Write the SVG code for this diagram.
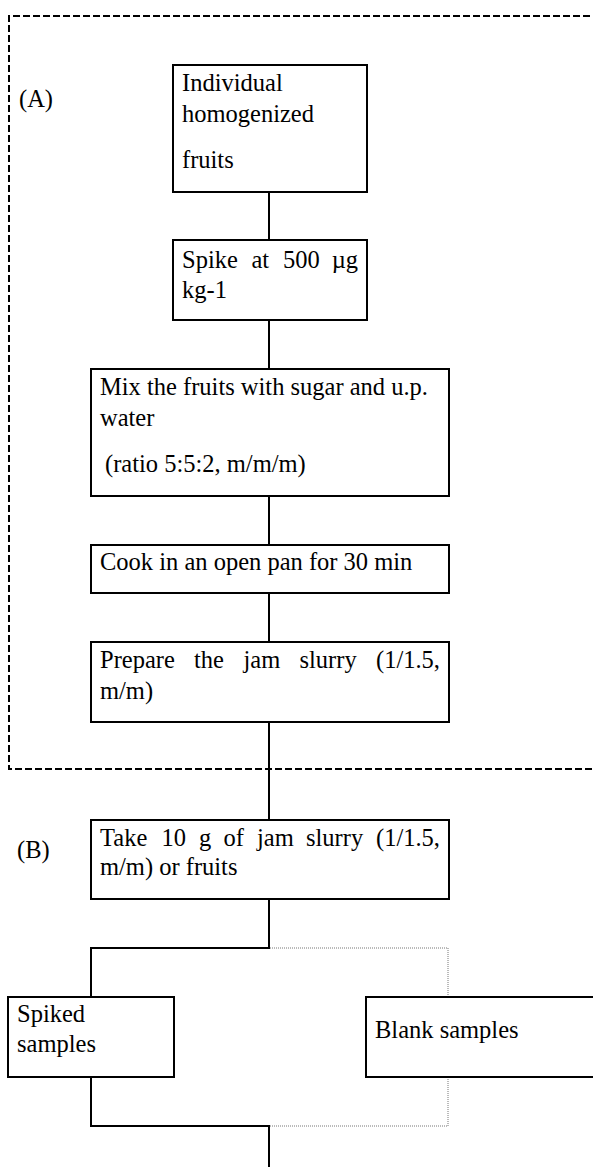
<svg xmlns="http://www.w3.org/2000/svg" width="593" height="1167" viewBox="0 0 593 1167">
<style>
.box{fill:#fff;stroke:#000;stroke-width:2}
.ln{stroke:#000;stroke-width:2;fill:none}
.dot{stroke:#777;stroke-width:1;stroke-dasharray:1 1;fill:none}
.dash{stroke:#000;stroke-width:2;stroke-dasharray:7 3;fill:none}
text{font-family:"Liberation Serif","Times New Roman",serif;font-size:24.5px;fill:#000}
.e{text-anchor:end}
</style>
<rect width="593" height="1167" fill="#fff"/>
<g id="groupA">
<path class="dash" d="M600,16 H9 V769 H600"/>
<text x="19" y="107">(A)</text>
</g>
<g id="connectors">
<line class="ln" x1="269" y1="192" x2="269" y2="240"/>
<line class="ln" x1="269" y1="320" x2="269" y2="369"/>
<line class="ln" x1="269" y1="496" x2="269" y2="545"/>
<line class="ln" x1="269" y1="593" x2="269" y2="642"/>
<line class="ln" x1="269" y1="722" x2="269" y2="820"/>
<polyline class="ln" points="269,899 269,948 91,948 91,997"/>
<polyline class="ln" points="91,1077 91,1126 269,1126"/>
<line class="ln" x1="269" y1="1125" x2="269" y2="1167"/>
<polyline class="dot" points="270,948 448,948 448,997"/>
<polyline class="dot" points="448,1077 448,1126 270,1126"/>
</g>
<g id="n1">
<rect class="box" x="173" y="65" width="194" height="127"/>
<text x="182" y="91">Individual</text>
<text x="182" y="122">homogenized</text>
<text x="182" y="168">fruits</text>
</g>
<g id="n2">
<rect class="box" x="173" y="240" width="194" height="80"/>
<text y="268"><tspan x="182">Spike</tspan><tspan x="251.5">at</tspan><tspan x="283">500</tspan><tspan x="358" class="e">µg</tspan></text>
<text x="182" y="298">kg-1</text>
</g>
<g id="n3">
<rect class="box" x="91" y="369" width="358" height="127"/>
<text x="100" y="395">Mix the fruits with sugar and u.p.</text>
<text x="100" y="426">water</text>
<text x="105" y="472">(ratio 5:5:2, m/m/m)</text>
</g>
<g id="n4">
<rect class="box" x="91" y="545" width="358" height="48"/>
<text x="100" y="570">Cook in an open pan for 30 min</text>
</g>
<g id="n5">
<rect class="box" x="91" y="642" width="358" height="80"/>
<text y="668"><tspan x="100">Prepare</tspan><tspan x="194">the</tspan><tspan x="243.5">jam</tspan><tspan x="299.5">slurry</tspan><tspan x="440" class="e">(1/1.5,</tspan></text>
<text x="100" y="699">m/m)</text>
</g>
<g id="n6">
<rect class="box" x="91" y="820" width="358" height="79"/>
<text x="17" y="858">(B)</text>
<text y="846"><tspan x="100">Take</tspan><tspan x="161.5">10</tspan><tspan x="199">g</tspan><tspan x="223.5">of</tspan><tspan x="257">jam</tspan><tspan x="306">slurry</tspan><tspan x="440" class="e">(1/1.5,</tspan></text>
<text x="100" y="875">m/m) or fruits</text>
</g>
<g id="n7">
<rect class="box" x="8" y="997" width="166" height="80"/>
<text x="17" y="1022">Spiked</text>
<text x="17" y="1052">samples</text>
</g>
<g id="n8">
<rect class="box" x="366" y="997" width="240" height="80"/>
<text x="375" y="1038">Blank samples</text>
</g>
</svg>
